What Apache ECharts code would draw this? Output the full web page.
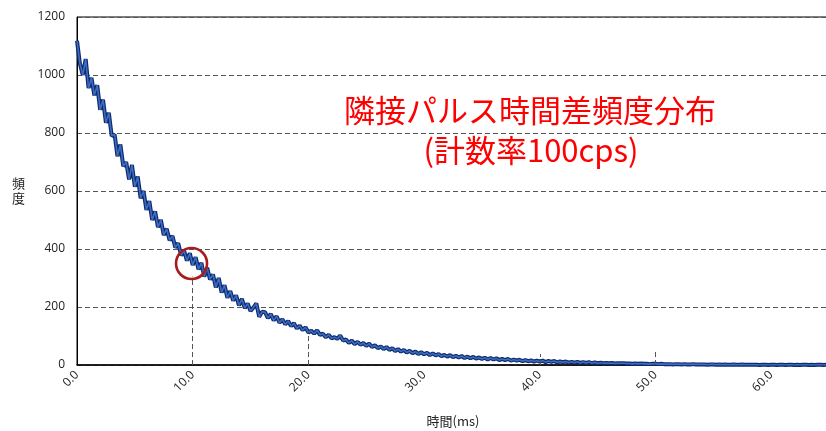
<!DOCTYPE html>
<html><head><meta charset="utf-8">
<script src="https://cdn.jsdelivr.net/npm/echarts@6/dist/echarts.min.js"></script>
<style>html,body{margin:0;padding:0;background:#fff;}#c{width:826px;height:431px;}</style>
</head><body><div id="c"></div>
<script>
// bin width in ms
var binWidth = 0.25;
// frequency per bin, t = 0 .. 65 ms in 0.25 ms steps
var counts = [
 1118,1040,1000,1055,955,
 990,930,965,880,
 915,835,870,790,
 795,720,760,685,
 700,640,690,615,
 650,575,600,535,
 565,500,530,475,
 500,448,470,430,
 445,405,420,378,
 395,360,385,345,
 372,330,352,305,
 335,295,312,268,
 300,250,275,232,
 255,222,240,205,
 228,196,212,186,
 198,212,166,184,
 182,162,176,154,
 168,146,158,140,
 152,134,144,126,
 136,120,130,112,
 118,108,120,104,
 108,96,104,92,
 96,90,102,84,
 88,76,84,72,
 80,70,76,66,
 74,62,68,58,
 64,55,62,52,
 58,48,55,46,
 52,43,49,41,
 46,38,44,37,
 42,34,40,33,
 38,30,35,29,
 34,27,32,26,
 31,24,29,23,
 28,22,26,21,
 25,19,24,19,
 23,17,21,17,
 21,15,19,15,
 18,13,17,13,
 16,12,15,12,
 15,10,14,11,
 14,9,12,10,
 12,8,11,8,
 11,7,10,7,
 10,6,9,6,
 8,6,7,6,
 7,5,6,6,
 6,5,5,4,
 5,4,5,4,
 4,3,4,4,
 3,4,3,3,
 3,2,3,3,
 2,3,2,2,
 3,2,2,2,
 2,1,2,2,
 1,2,1,2,
 1,1,2,1,
 1,2,1,1,
 1,1,1,0,
 1,1,0,1,
 1,0,1,1,
 0,1,1,0,
 1,0,1,1,
 0,1,0,1,
 1,0,1,0
];
// vertical drop lines (time ms, top value)
var dropTimes = [10, 20, 40, 50];
var dropTops = [305, 115, 38, 50];
// highlighted point (circle)
var circleT = 9.9, circleV = 350;
var titleLines = ['隣接パルス時間差頻度分布', '(計数率100cps)'];
var xName = '時間(ms)';
var yName = '頻度';
var yTicks = {min: 0, max: 1200, interval: 200};
var xTicks = {min: 0, max: 65, interval: 10};

var data = counts.map(function (v, i) { return [i * binWidth, v]; });
var drops = dropTimes.map(function (t, i) {
  return [{coord: [t, 0]}, {coord: [t, dropTops[i]]}];
});

var chart = echarts.init(document.getElementById('c'), null, {renderer: 'canvas'});
var labelFont = {fontFamily: '"Open Sans","Noto Sans",sans-serif', fontSize: 12, color: '#222'};
chart.setOption({
  animation: false,
  grid: {left: 77, right: -3, top: 17, bottom: 66, outerBoundsMode: 'none', containLabel: false,
    show: true, borderColor: '#000', borderWidth: 1, backgroundColor: 'transparent'},
  xAxis: {
    type: 'value', min: xTicks.min, max: xTicks.max, interval: xTicks.interval,
    name: xName, nameLocation: 'middle', nameGap: 50,
    nameTextStyle: {fontFamily: '"Noto Sans CJK JP",sans-serif', fontSize: 13, color: '#222'},
    axisLine: {lineStyle: {color: '#000', width: 1.5}},
    axisTick: {show: false},
    splitLine: {show: false},
    axisLabel: Object.assign({rotate: 45, margin: 8, showMaxLabel: false,
      formatter: function (v) { return v.toFixed(1); }}, labelFont)
  },
  yAxis: {
    type: 'value', min: yTicks.min, max: yTicks.max, interval: yTicks.interval,
    name: yName.split('').join('\n'), nameLocation: 'middle', nameGap: 52, nameRotate: 0,
    nameTextStyle: {fontFamily: '"Noto Sans CJK JP",sans-serif', fontSize: 13, color: '#222', lineHeight: 15},
    axisLine: {show: true, lineStyle: {color: '#000', width: 1}},
    axisTick: {show: false},
    splitLine: {lineStyle: {color: '#555', type: [5, 3], width: 1}},
    axisLabel: Object.assign({margin: 12, formatter: function (v) { return String(v); }}, labelFont)
  },
  series: [{
    type: 'line', data: data, showSymbol: false, silent: true,
    lineStyle: {color: '#0d2b6e', width: 4},
    markLine: {
      silent: true, symbol: ['none', 'none'], label: {show: false},
      lineStyle: {color: '#555', type: [5, 3], width: 1},
      data: drops
    }
  }, {
    type: 'line', data: data, showSymbol: false, silent: true,
    lineStyle: {color: '#3d6cc0', width: 1.6},
    markPoint: {
      silent: true, symbol: 'circle', symbolSize: 31, label: {show: false},
      itemStyle: {color: 'rgba(0,0,0,0)', borderColor: '#a81c1c', borderWidth: 2.6},
      data: [{coord: [circleT, circleV]}]
    }
  }],
  graphic: [{
    type: 'text', x: 530, y: 95,
    style: {text: titleLines[0], fill: '#ff0000', font: '31px "Noto Sans CJK JP"', textAlign: 'center'}
  }, {
    type: 'text', x: 531, y: 135,
    style: {text: titleLines[1], fill: '#ff0000', font: '31px "Noto Sans CJK JP"', textAlign: 'center'}
  }]
});
</script>
</body></html>
